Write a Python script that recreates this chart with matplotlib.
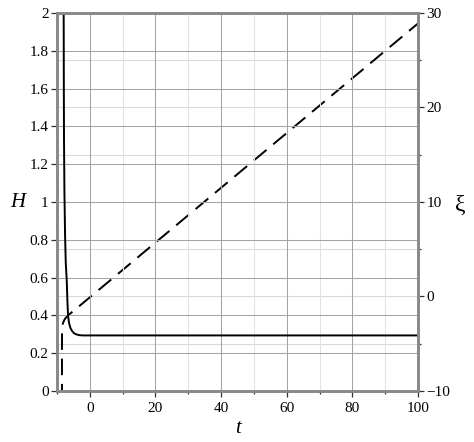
import numpy as np
import matplotlib.pyplot as plt
from matplotlib.ticker import MultipleLocator

# H(t), solid curve
t_H = [-7.97, -7.93, -7.88, -7.83, -7.7, -7.5, -7.3, -7.0, -6.8, -6.6, -6.3,
       -5.9, -5.4, -4.8, -4.0, -3.0, -2.0, 0.0, 20.0, 50.0, 100.0]
H = [2.6, 2.0, 1.6, 1.33, 1.05, 0.82, 0.68, 0.587, 0.48, 0.40, 0.36,
     0.335, 0.318, 0.306, 0.299, 0.295, 0.294, 0.294, 0.294, 0.294, 0.294]

# xi(t), dashed curve on the right axis
t_xi = [-8.45, -8.45, -8.43, -8.35, -8.2, -7.9, -7.5, -7.0, -6.6, 0.0, 100.0]
xi = [-11.0, -5.0, -4.0, -3.3, -2.9, -2.6, -2.35, -2.15, -2.0, -0.1, 28.9]

plt.rc('font', family='Liberation Serif')
plt.rc('xtick', labelsize=11)
plt.rc('ytick', labelsize=11)

fig = plt.figure(figsize=(4.74, 4.42), dpi=100)
ax = fig.add_axes([0.120, 0.1154, 0.762, 0.8552])
ax2 = ax.twinx()

spine_col = '#8a8a8a'

# grid
ax.set_xlim(-10, 100)
ax.set_ylim(0, 2)
ax2.set_ylim(-10, 30)
ax.xaxis.set_major_locator(MultipleLocator(20))
ax.xaxis.set_minor_locator(MultipleLocator(10))
ax.yaxis.set_major_locator(MultipleLocator(0.2))
ax2.yaxis.set_major_locator(MultipleLocator(10))
ax2.yaxis.set_minor_locator(MultipleLocator(5))

ax.grid(True, which='major', axis='x', color='#a4a4a4', lw=0.75)
ax.grid(True, which='minor', axis='x', color='#e2e2e2', lw=0.75)
ax.grid(True, which='major', axis='y', color='#a4a4a4', lw=0.75)
ax2.grid(True, which='both', axis='y', color='#d8d8d8', lw=0.75)
ax.set_axisbelow(True)
ax2.set_axisbelow(True)
ax.set_zorder(2)
ax.patch.set_visible(False)
ax2.set_zorder(1)

ax.plot(t_H, H, color='black', lw=1.4)
ax2.plot(t_xi, xi, color='black', lw=1.4, linestyle=(0, (8.5, 4.5)))

ax.set_xticks([0, 20, 40, 60, 80, 100])
ax.set_yticks([0, 0.2, 0.4, 0.6, 0.8, 1, 1.2, 1.4, 1.6, 1.8, 2])
ax.set_yticklabels(['0', '0.2', '0.4', '0.6', '0.8', '1', '1.2', '1.4', '1.6', '1.8', '2'])
ax2.set_yticks([-10, 0, 10, 20, 30])
ax2.set_yticklabels(['\u221210', '0', '10', '20', '30'])

for a in (ax, ax2):
    for s in a.spines.values():
        s.set_color(spine_col)
        s.set_linewidth(2.0)
    a.tick_params(which='major', length=4, width=0.9, color='#303030', pad=2)
    a.tick_params(which='minor', length=2.5, width=0.9, color='#303030')
ax.tick_params(axis='x', which='major', pad=4)

ax.set_xlabel('t', fontsize=15, fontstyle='italic', labelpad=3)
fig.text(18 / 474, 1 - 203 / 442, 'H', fontsize=15, fontstyle='italic',
         ha='center', va='center')
fig.text(460 / 474, 1 - 205 / 442, '\u03be', fontsize=17, ha='center', va='center')

plt.savefig('out.png', dpi=100)
